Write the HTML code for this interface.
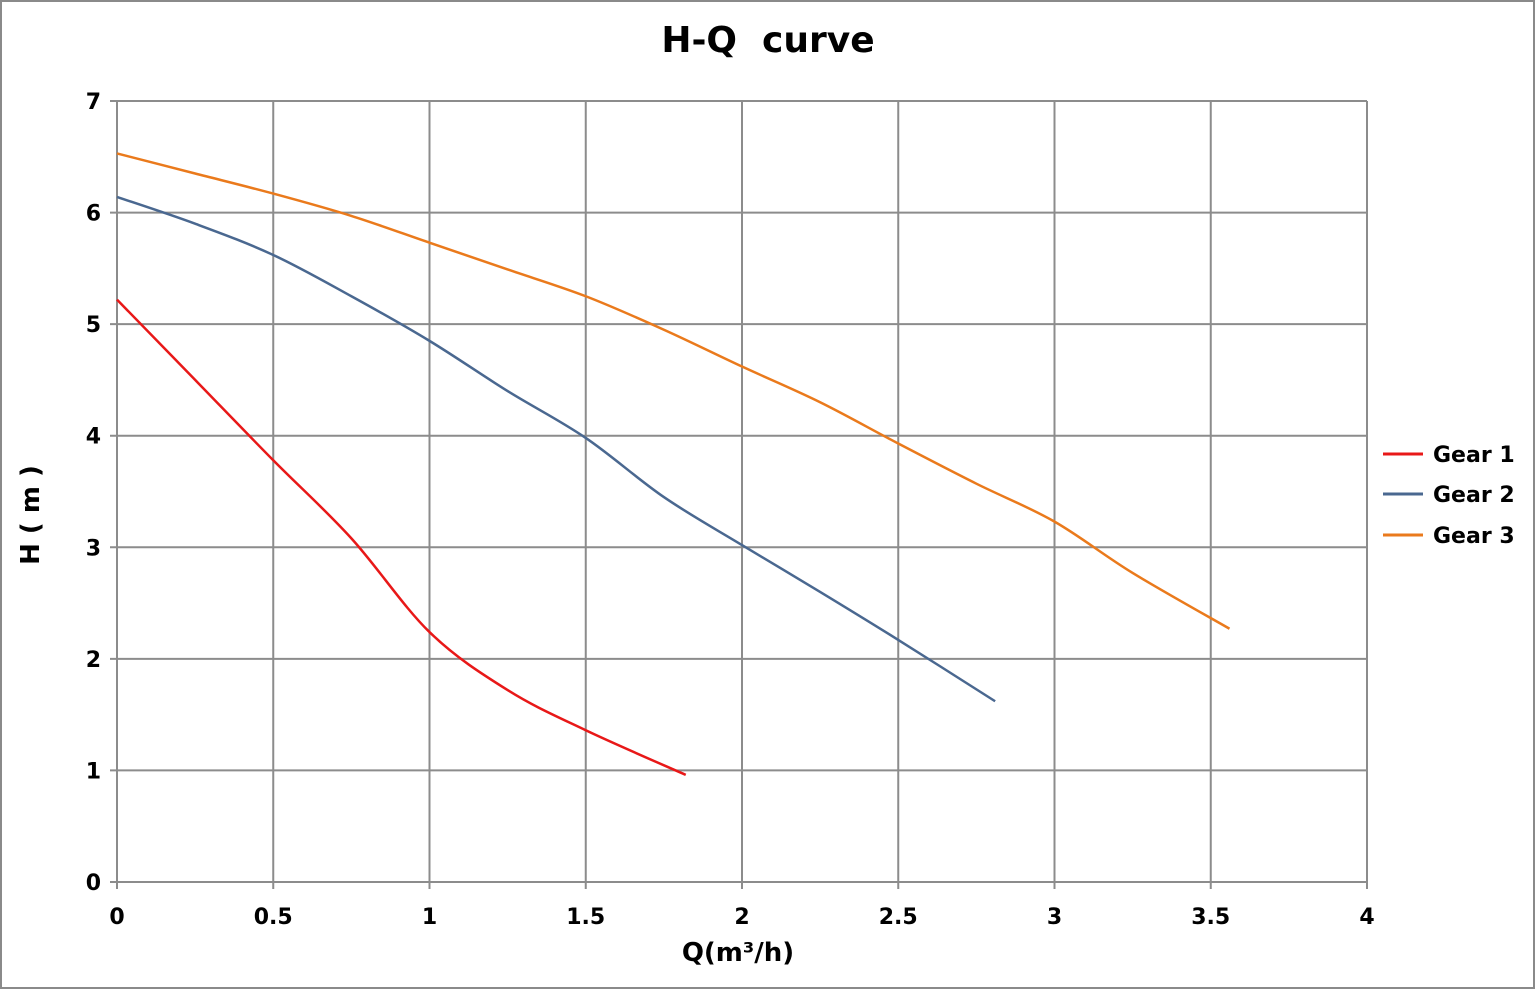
<!DOCTYPE html>
<html><head><meta charset="utf-8"><style>
html,body{margin:0;padding:0;background:#fff;}
svg{display:block;}
text{font-family:"DejaVu Sans","Liberation Sans",sans-serif;font-weight:bold;fill:#000;}
</style></head><body>
<svg id="chart" width="1536" height="991" viewBox="0 0 1536 991" xmlns="http://www.w3.org/2000/svg">
<rect x="1" y="1" width="1533" height="987" fill="#fff" stroke="#8a8a8a" stroke-width="2"/>
<text x="768" y="52" font-size="36" text-anchor="middle" xml:space="preserve">H-Q  curve</text>
<g id="grid"></g>
<g id="series"></g>
<text x="738" y="961" font-size="26" text-anchor="middle">Q(m³/h)</text>
<text transform="translate(39,515) rotate(-90)" font-size="26" text-anchor="middle">H ( m )</text>
<g>
<g><line x1="1383" y1="454" x2="1423" y2="454" stroke="#e81818" stroke-width="3"/><text x="1433" y="462" font-size="22">Gear 1</text></g>
<g><line x1="1383" y1="494" x2="1423" y2="494" stroke="#4a6890" stroke-width="3"/><text x="1433" y="502" font-size="22">Gear 2</text></g>
<g><line x1="1383" y1="535" x2="1423" y2="535" stroke="#ea7a1c" stroke-width="3"/><text x="1433" y="543" font-size="22">Gear 3</text></g>
</g>
</svg>
<script>
const xTicks=[0,0.5,1,1.5,2,2.5,3,3.5,4];
const xTickLabels=["0","0.5","1","1.5","2","2.5","3","3.5","4"];
const yTicks=[0,1,2,3,4,5,6,7];
const yTickLabels=["0","1","2","3","4","5","6","7"];
const gear1Q=[0,0.25,0.5,0.75,1,1.25,1.5,1.82];
const gear1H=[5.22,4.5,3.78,3.08,2.24,1.72,1.36,0.96];
const gear2Q=[0,0.25,0.5,0.75,1,1.25,1.5,1.75,2,2.25,2.5,2.81];
const gear2H=[6.14,5.9,5.62,5.25,4.85,4.4,3.98,3.45,3.02,2.6,2.17,1.62];
const gear3Q=[0,0.25,0.5,0.75,1,1.25,1.5,1.75,2,2.25,2.5,2.75,3,3.25,3.56];
const gear3H=[6.53,6.35,6.17,5.97,5.73,5.49,5.25,4.95,4.62,4.3,3.93,3.57,3.23,2.77,2.27];

const NS="http://www.w3.org/2000/svg";
const X0=117,X1=1367,Y0=882,Y1=101,XMAX=4,YMAX=7;
const xs=v=>X0+(X1-X0)*v/XMAX;
const ys=v=>Y0-(Y0-Y1)*v/YMAX;
function mk(tag,attrs,parent){const e=document.createElementNS(NS,tag);for(const k in attrs)e.setAttribute(k,attrs[k]);parent.appendChild(e);return e;}
const grid=document.getElementById('grid');
xTicks.forEach((t,i)=>{
  const l=mk('line',{x1:xs(t),x2:xs(t),y1:Y1,y2:Y0+7,stroke:'#8c8c8c','stroke-width':2},grid);
  
  
  const tx=mk('text',{x:xs(t),y:Y0+42,'font-size':22,'text-anchor':'middle'},grid);
  
  
  tx.textContent=xTickLabels[i];
});
yTicks.forEach((t,i)=>{
  const l=mk('line',{x1:X0-7,x2:X1,y1:ys(t),y2:ys(t),stroke:'#8c8c8c','stroke-width':2},grid);
  
  
  const tx=mk('text',{x:X0-16,y:ys(t)+8,'font-size':22,'text-anchor':'end'},grid);
  
  
  tx.textContent=yTickLabels[i];
});
function pathFor(q,h){
  const p=q.map((v,i)=>[xs(v),ys(h[i])]);
  let d='M'+p[0][0]+','+p[0][1];
  for(let i=0;i<p.length-1;i++){
    const a=p[Math.max(0,i-1)],b=p[i],c=p[i+1],e=p[Math.min(p.length-1,i+2)];
    const c1=[b[0]+(c[0]-a[0])/6,b[1]+(c[1]-a[1])/6];
    const c2=[c[0]-(e[0]-b[0])/6,c[1]-(e[1]-b[1])/6];
    d+=' C'+c1+' '+c2+' '+c;
  }
  return d;
}
const ser=document.getElementById('series');
[[gear1Q,gear1H,'#e81818','gear-1-line'],[gear2Q,gear2H,'#4a6890','gear-2-line'],[gear3Q,gear3H,'#ea7a1c','gear-3-line']].forEach(s=>{
  const p=mk('path',{d:pathFor(s[0],s[1]),fill:'none',stroke:s[2],'stroke-width':2.5},ser);
  
  
});
</script>
</body></html>
